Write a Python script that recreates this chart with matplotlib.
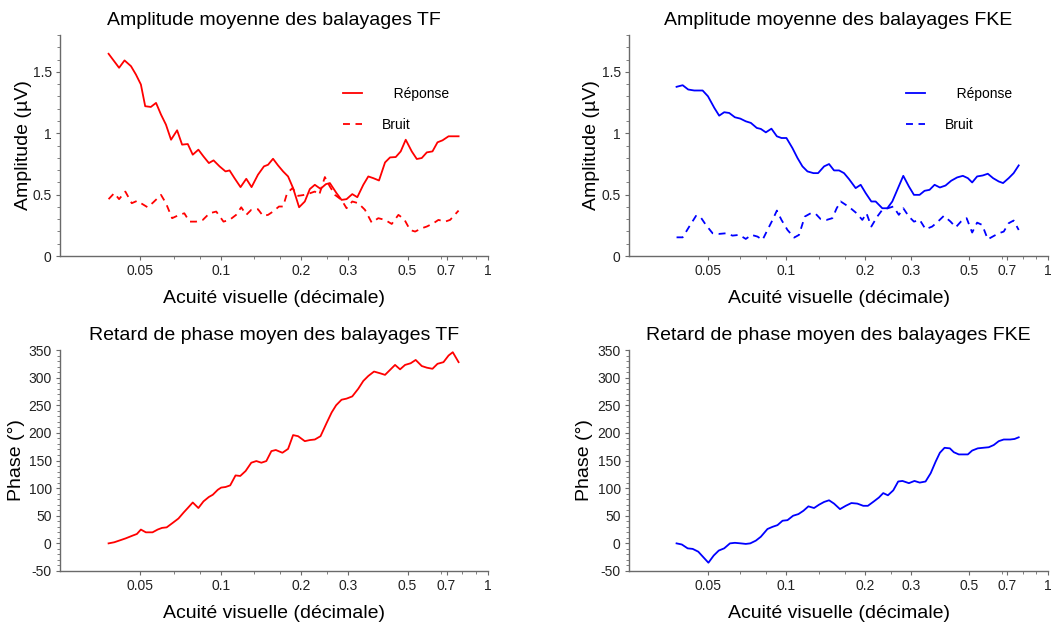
import matplotlib
matplotlib.use("Agg")
import matplotlib.pyplot as plt
import numpy as np

plt.rcParams['font.family'] = ['Liberation Sans', 'DejaVu Sans']
plt.rcParams['lines.scale_dashes'] = False
plt.rcParams['axes.unicode_minus'] = False

# ---- data (x = acuity, decimal) ----
tf_resp_x = [0.0380, 0.0416, 0.0436, 0.0461, 0.0481, 0.0502, 0.0521, 0.0547, 0.0572, 0.0597,
             0.0623, 0.0651, 0.0686, 0.0716, 0.0752, 0.0785, 0.0824, 0.0861, 0.0902, 0.0939,
             0.0989, 0.1041, 0.1078, 0.1125, 0.1185, 0.1245, 0.1303, 0.1377, 0.1450, 0.1502,
             0.1568, 0.1637, 0.1710, 0.1785, 0.1864, 0.1963, 0.2062, 0.2153, 0.2248, 0.2361,
             0.2472, 0.2559, 0.2710, 0.2830, 0.2955, 0.3104, 0.3242, 0.3414, 0.3564, 0.3722,
             0.3908, 0.4117, 0.4299, 0.4515, 0.4713, 0.4921, 0.5183, 0.5413, 0.5650, 0.5902,
             0.6197, 0.6471, 0.6756, 0.7118, 0.7761]
tf_resp_y = [1.647, 1.533, 1.593, 1.546, 1.478, 1.397, 1.220, 1.214, 1.247, 1.152,
             1.070, 0.947, 1.024, 0.907, 0.912, 0.825, 0.866, 0.811, 0.757, 0.779,
             0.730, 0.689, 0.697, 0.634, 0.561, 0.629, 0.561, 0.662, 0.730, 0.743,
             0.792, 0.738, 0.689, 0.648, 0.553, 0.397, 0.444, 0.545, 0.580, 0.547,
             0.585, 0.594, 0.512, 0.457, 0.463, 0.504, 0.479, 0.580, 0.648, 0.634,
             0.615, 0.762, 0.803, 0.806, 0.852, 0.947, 0.852, 0.790, 0.798, 0.844,
             0.852, 0.926, 0.942, 0.975, 0.975]

tf_noise_x = [0.0380, 0.0399, 0.0416, 0.0439, 0.0464, 0.0486, 0.0532, 0.0558, 0.0597, 0.0623,
              0.0657, 0.0699, 0.0730, 0.0763, 0.0808, 0.0856, 0.0907, 0.0961, 0.1023, 0.1078,
              0.1141, 0.1192, 0.1245, 0.1300, 0.1377, 0.1438, 0.1502, 0.1568, 0.1650, 0.1710,
              0.1770, 0.1854, 0.1946, 0.2032, 0.2123, 0.2248, 0.2334, 0.2451, 0.2559, 0.2673,
              0.2830, 0.2955, 0.3104, 0.3270, 0.3463, 0.3670, 0.3885, 0.4117, 0.4362, 0.4620,
              0.4856, 0.5109, 0.5335, 0.5650, 0.5902, 0.6250, 0.6524, 0.6911, 0.7215, 0.7761]
tf_noise_y = [0.463, 0.512, 0.463, 0.525, 0.430, 0.449, 0.397, 0.436, 0.498, 0.430,
              0.308, 0.335, 0.348, 0.280, 0.280, 0.294, 0.348, 0.362, 0.280, 0.294,
              0.335, 0.397, 0.335, 0.376, 0.381, 0.327, 0.335, 0.362, 0.403, 0.403,
              0.512, 0.553, 0.490, 0.496, 0.506, 0.525, 0.498, 0.643, 0.566, 0.498,
              0.457, 0.389, 0.444, 0.430, 0.376, 0.272, 0.308, 0.294, 0.261, 0.335,
              0.300, 0.212, 0.199, 0.226, 0.240, 0.267, 0.294, 0.280, 0.294, 0.370]

fke_resp_x = [0.0380, 0.0401, 0.0421, 0.0444, 0.0478, 0.0501, 0.0530, 0.0553, 0.0578, 0.0604,
              0.0635, 0.0666, 0.0699, 0.0731, 0.0770, 0.0798, 0.0834, 0.0876, 0.0919, 0.0957,
              0.1000, 0.1054, 0.1102, 0.1151, 0.1203, 0.1268, 0.1321, 0.1393, 0.1455, 0.1520,
              0.1589, 0.1660, 0.1735, 0.1839, 0.1922, 0.2009, 0.2111, 0.2193, 0.2325, 0.2430,
              0.2539, 0.2653, 0.2797, 0.2939, 0.3072, 0.3228, 0.3373, 0.3525, 0.3684, 0.3860,
              0.4057, 0.4264, 0.4494, 0.4725, 0.4938, 0.5129, 0.5358, 0.5632, 0.5886, 0.6167,
              0.6481, 0.6733, 0.7073, 0.7391, 0.7727]
fke_resp_y = [1.378, 1.391, 1.356, 1.348, 1.348, 1.301, 1.206, 1.143, 1.171, 1.165,
              1.130, 1.119, 1.097, 1.084, 1.043, 1.035, 1.007, 1.037, 0.975, 0.961,
              0.961, 0.879, 0.798, 0.730, 0.689, 0.675, 0.675, 0.730, 0.749, 0.697,
              0.697, 0.675, 0.626, 0.553, 0.580, 0.512, 0.444, 0.444, 0.389, 0.389,
              0.444, 0.539, 0.653, 0.566, 0.498, 0.498, 0.531, 0.539, 0.580, 0.558,
              0.574, 0.613, 0.640, 0.653, 0.634, 0.599, 0.648, 0.656, 0.670, 0.634,
              0.607, 0.594, 0.634, 0.675, 0.738]

fke_noise_x = [0.0380, 0.0401, 0.0425, 0.0451, 0.0468, 0.0492, 0.0522, 0.0553, 0.0587, 0.0622,
               0.0660, 0.0699, 0.0735, 0.0775, 0.0810, 0.0846, 0.0885, 0.0919, 0.0957, 0.1009,
               0.1070, 0.1117, 0.1175, 0.1238, 0.1294, 0.1352, 0.1424, 0.1498, 0.1556, 0.1612,
               0.1685, 0.1759, 0.1855, 0.1950, 0.2023, 0.2111, 0.2224, 0.2325, 0.2443, 0.2561,
               0.2690, 0.2797, 0.2939, 0.3072, 0.3233, 0.3403, 0.3608, 0.3793, 0.3998, 0.4241,
               0.4440, 0.4644, 0.4885, 0.5129, 0.5358, 0.5603, 0.5886, 0.6202, 0.6481, 0.6773,
               0.7073, 0.7391, 0.7727]
fke_noise_y = [0.152, 0.152, 0.240, 0.327, 0.321, 0.253, 0.185, 0.180, 0.185, 0.166,
               0.172, 0.139, 0.172, 0.158, 0.131, 0.212, 0.294, 0.370, 0.294, 0.212,
               0.150, 0.172, 0.321, 0.348, 0.343, 0.300, 0.294, 0.308, 0.389, 0.444,
               0.417, 0.389, 0.348, 0.294, 0.348, 0.240, 0.321, 0.376, 0.389, 0.403,
               0.335, 0.389, 0.321, 0.280, 0.294, 0.218, 0.240, 0.280, 0.327, 0.280,
               0.234, 0.280, 0.308, 0.191, 0.272, 0.253, 0.136, 0.163, 0.185, 0.199,
               0.267, 0.289, 0.212]

tf_phase_x = [0.0380, 0.0399, 0.0422, 0.0440, 0.0467, 0.0485, 0.0502, 0.0524, 0.0555, 0.0580,
              0.0602, 0.0627, 0.0660, 0.0694, 0.0726, 0.0752, 0.0785, 0.0824, 0.0861, 0.0902,
              0.0933, 0.0974, 0.1003, 0.1041, 0.1084, 0.1135, 0.1182, 0.1238, 0.1300, 0.1358,
              0.1418, 0.1480, 0.1546, 0.1606, 0.1700, 0.1785, 0.1864, 0.1946, 0.2062, 0.2153,
              0.2248, 0.2361, 0.2489, 0.2599, 0.2701, 0.2830, 0.2955, 0.3104, 0.3270, 0.3414,
              0.3564, 0.3744, 0.3937, 0.4117, 0.4299, 0.4489, 0.4687, 0.4893, 0.5134, 0.5362,
              0.5650, 0.5902, 0.6197, 0.6471, 0.6813, 0.7118, 0.7381, 0.7761]
tf_phase_y = [0, 2, 6, 9, 14, 17, 25, 20, 20, 25,
              28, 29, 37, 45, 56, 64, 74, 64, 76, 84,
              88, 97, 101, 102, 105, 123, 122, 131, 146, 149,
              146, 149, 167, 169, 164, 171, 196, 194, 185, 187,
              188, 194, 218, 237, 250, 260, 262, 266, 280, 294,
              303, 311, 308, 305, 314, 323, 315, 323, 326, 332,
              321, 318, 316, 325, 328, 340, 346, 328]

fke_phase_x = [0.0380, 0.0398, 0.0419, 0.0438, 0.0460, 0.0481, 0.0503, 0.0527, 0.0551, 0.0578,
               0.0608, 0.0635, 0.0669, 0.0699, 0.0727, 0.0764, 0.0798, 0.0846, 0.0885, 0.0924,
               0.0966, 0.1009, 0.1060, 0.1111, 0.1161, 0.1213, 0.1275, 0.1332, 0.1393, 0.1455,
               0.1520, 0.1602, 0.1685, 0.1771, 0.1866, 0.1966, 0.2048, 0.2159, 0.2257, 0.2344,
               0.2443, 0.2561, 0.2674, 0.2777, 0.2939, 0.3086, 0.3233, 0.3403, 0.3560, 0.3719,
               0.3860, 0.4022, 0.4215, 0.4364, 0.4561, 0.4766, 0.4938, 0.5129, 0.5389, 0.5646,
               0.5935, 0.6202, 0.6481, 0.6773, 0.7161, 0.7453, 0.7727]
fke_phase_y = [0, -2, -9, -10, -15, -25, -35, -22, -13, -9,
               0, 1, 0, -1, 0, 5, 12, 26, 30, 33,
               41, 42, 50, 53, 59, 67, 64, 70, 75, 78,
               72, 62, 68, 73, 72, 68, 68, 76, 83, 91,
               87, 96, 112, 113, 109, 113, 110, 112, 127, 148,
               164, 173, 172, 165, 161, 161, 161, 168, 172, 173,
               174, 178, 185, 188, 188, 189, 192]

xticks = [0.05, 0.1, 0.2, 0.3, 0.5, 0.7, 1]
xticklabels = ['0.05', '0.1', '0.2', '0.3', '0.5', '0.7', '1']
xminor = [0.0667, 0.0833, 0.1333, 0.1667, 0.25, 0.6667, 0.8, 0.9]

# ---- figure ----
W, H = 1062, 626
fig = plt.figure(figsize=(W / 100, H / 100), dpi=100)

def px_axes(l, r, t, b):
    return fig.add_axes([l / W, 1 - b / H, (r - l) / W, (b - t) / H])

ax_tl = px_axes(60, 488, 35, 256)
ax_tr = px_axes(629, 1048, 35, 256)
ax_bl = px_axes(60, 488, 350, 571)
ax_br = px_axes(629, 1048, 350, 571)

spine_col = '#6a6a6a'

def style(ax):
    ax.set_xscale('log')
    ax.set_xlim(0.025, 1)
    ax.set_xticks(xticks)
    ax.set_xticklabels(xticklabels)
    ax.set_xticks(xminor, minor=True)
    ax.xaxis.set_minor_formatter(matplotlib.ticker.NullFormatter())
    for s in ['top', 'right']:
        ax.spines[s].set_visible(False)
    for s in ['left', 'bottom']:
        ax.spines[s].set_color(spine_col)
        ax.spines[s].set_linewidth(1.0)
    ax.tick_params(which='major', length=3, width=0.8, color=spine_col,
                   labelsize=10, labelcolor='#222222', pad=3)
    ax.tick_params(which='minor', length=2, width=0.6, color=spine_col)
    ax.set_xlabel('Acuité visuelle (décimale)', fontsize=14, labelpad=8.5)

def amp_axes(ax, title, color, rx, ry, nx, ny, ylab_x):
    ax.plot(rx, ry, color=color, lw=1.3, label='   Réponse')
    ax.plot(nx, ny, color=color, lw=1.3, dashes=(5, 4), label='Bruit')
    style(ax)
    ax.set_ylim(0, 1.8)
    ax.set_yticks([0, 0.5, 1, 1.5])
    ax.set_yticklabels(['0', '0.5', '1', '1.5'])
    ax.set_yticks(np.arange(0, 1.81, 0.1), minor=True)
    ax.set_ylabel('Amplitude (µV)', fontsize=14)
    ax.yaxis.set_label_coords(ylab_x, 0.5)
    ax.set_title(title, fontsize=14, pad=7)
    ax.legend(loc='center left', bbox_to_anchor=(0.661, 0.665), frameon=False,
              fontsize=10, handlelength=1.37, handletextpad=1.44,
              labelspacing=1.22, borderpad=0, borderaxespad=0)

def phase_axes(ax, title, color, px, py, ylab_x):
    ax.plot(px, py, color=color, lw=1.3)
    style(ax)
    ax.set_ylim(-50, 350)
    ax.set_yticks(np.arange(-50, 351, 50))
    ax.set_yticks(np.arange(-50, 351, 10), minor=True)
    ax.set_ylabel('Phase (°)', fontsize=14)
    ax.yaxis.set_label_coords(ylab_x, 0.5)
    ax.set_title(title, fontsize=14, pad=7)

amp_axes(ax_tl, 'Amplitude moyenne des balayages TF', '#ff0000',
         tf_resp_x, tf_resp_y, tf_noise_x, tf_noise_y, -0.065)
amp_axes(ax_tr, 'Amplitude moyenne des balayages FKE', '#0000ff',
         fke_resp_x, fke_resp_y, fke_noise_x, fke_noise_y, -0.069)
phase_axes(ax_bl, 'Retard de phase moyen des balayages TF', '#ff0000',
           tf_phase_x, tf_phase_y, -0.082)
phase_axes(ax_br, 'Retard de phase moyen des balayages FKE', '#0000ff',
           fke_phase_x, fke_phase_y, -0.086)

fig.savefig('out.png', dpi=100)
